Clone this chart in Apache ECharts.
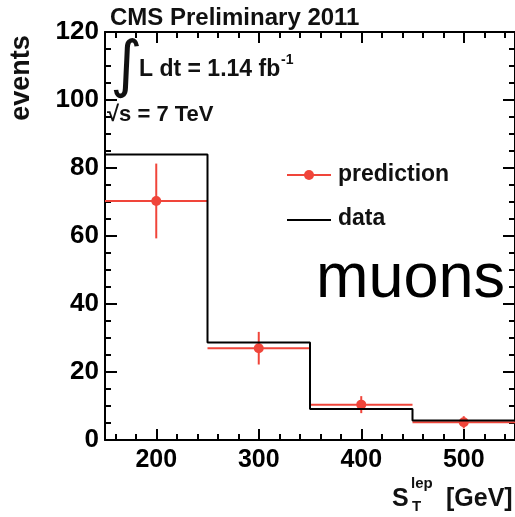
<!DOCTYPE html>
<html>
<head>
<meta charset="utf-8">
<script src="https://cdn.jsdelivr.net/npm/echarts@6/dist/echarts.min.js"></script>
<style>
  html, body { margin: 0; padding: 0; background: #fff; }
  #chart { width: 515px; height: 517px; }
</style>
</head>
<body>
<div id="chart"></div>
<script>
// S_T^lep distribution, muon channel: observed counts vs. prediction
const binEdges = [150, 250, 350, 450, 550];
const dataCounts = [84.0, 28.7, 9.1, 5.7];
const predValues = [70.3, 27.0, 10.4, 5.2];
const predErrors = [11.0, 4.8, 2.5, 1.8];
const xTickLabels = [200, 300, 400, 500];
const xMinorTicks = [160, 180, 200, 220, 240, 260, 280, 300, 320, 340, 360, 380, 400, 420, 440, 460, 480, 500, 520, 540];

const RED = '#f0453a';
const FONT = '"Liberation Sans", Arial, Helvetica, sans-serif';

// step outline of the observed histogram
const histPoints = [];
dataCounts.forEach((v, i) => {
  histPoints.push([binEdges[i], v]);
  histPoints.push([binEdges[i + 1], v]);
});

// prediction points: [centre, value, error, low edge, high edge]
const predPoints = predValues.map((v, i) => [
  (binEdges[i] + binEdges[i + 1]) / 2, v, predErrors[i], binEdges[i], binEdges[i + 1]
]);

const chart = echarts.init(document.getElementById('chart'), null, { renderer: 'canvas' });

const frameLine = { show: true, onZero: false, lineStyle: { color: '#000', width: 2 } };
const noLine = { show: false, onZero: false };
const tickStyle = { color: '#000', width: 2 };

function xAxisDef(position, major) {
  return {
    type: 'value', min: 150, max: 550, position: position,
    axisLine: major ? frameLine : noLine,
    axisTick: {
      show: true, inside: true, length: major ? 11 : 6, lineStyle: tickStyle,
      customValues: major ? xTickLabels : xMinorTicks
    },
    axisLabel: (major && position === 'bottom')
      ? { show: true, customValues: xTickLabels, color: '#000', fontSize: 25, fontWeight: 'bold', fontFamily: FONT, margin: 8 }
      : { show: false },
    splitLine: { show: false }
  };
}

function yAxisDef(position) {
  return {
    type: 'value', min: 0, max: 120, interval: 20, position: position,
    axisLine: frameLine,
    axisTick: { show: true, inside: true, length: 12, lineStyle: tickStyle },
    minorTick: { show: true, splitNumber: 4, length: 6, lineStyle: tickStyle },
    axisLabel: position === 'left'
      ? { color: '#000', fontSize: 26, fontWeight: 'bold', fontFamily: FONT, margin: 6 }
      : { show: false },
    splitLine: { show: false }
  };
}

const option = {
  animation: false,
  backgroundColor: '#fff',
  grid: { left: 105, top: 32, width: 418, height: 408, containLabel: false },
  xAxis: [
    xAxisDef('bottom', true),
    xAxisDef('bottom', false),
    xAxisDef('top', true),
    xAxisDef('top', false)
  ],
  yAxis: [yAxisDef('left'), yAxisDef('right')],
  series: [
    {
      name: 'prediction',
      type: 'custom',
      xAxisIndex: 0, yAxisIndex: 0,
      data: predPoints,
      renderItem: function (params, api) {
        const c = api.value(0), v = api.value(1), e = api.value(2);
        const lo = api.value(3), hi = api.value(4);
        const pL = api.coord([lo, v]), pR = api.coord([hi, v]);
        const pT = api.coord([c, v + e]), pB = api.coord([c, v - e]);
        const pC = api.coord([c, v]);
        const st = { stroke: RED, lineWidth: 2, fill: null };
        return {
          type: 'group',
          children: [
            { type: 'line', shape: { x1: pL[0], y1: pL[1], x2: pR[0], y2: pR[1] }, style: st },
            { type: 'line', shape: { x1: pT[0], y1: pT[1], x2: pB[0], y2: pB[1] }, style: st },
            { type: 'circle', shape: { cx: pC[0], cy: pC[1], r: 5 }, style: { fill: RED } }
          ]
        };
      },
      z: 2
    },
    {
      name: 'data',
      type: 'line',
      xAxisIndex: 0, yAxisIndex: 0,
      data: histPoints,
      showSymbol: false,
      symbol: 'none',
      lineStyle: { color: '#000', width: 2 },
      z: 3
    }
  ],
  graphic: [
    // header
    { type: 'text', left: 110, top: 6, style: { text: 'CMS Preliminary 2011', font: 'bold 24px ' + FONT, fill: '#111' } },
    // luminosity and energy
    { type: 'text', left: 110, top: 38, style: { text: '\u222B', font: '62px "DejaVu Sans", sans-serif', fill: '#111' } },
    { type: 'text', left: 139, top: 58, style: { text: 'L dt = 1.14 fb', font: 'bold 23px ' + FONT, fill: '#111' } },
    { type: 'text', left: 281, top: 53, style: { text: '-1', font: 'bold 14px ' + FONT, fill: '#111' } },
    { type: 'text', left: 107, top: 104, style: { text: '\u221As = 7 TeV', font: 'bold 22px ' + FONT, fill: '#111' } },
    // y-axis title
    { type: 'text', x: 22, y: 78, rotation: Math.PI / 2, style: { text: 'events', font: 'bold 27px ' + FONT, fill: '#111', align: 'center', verticalAlign: 'middle' } },
    // x-axis title
    { type: 'text', left: 392, top: 487, style: { text: 'S', font: 'bold 25px ' + FONT, fill: '#111' } },
    { type: 'text', left: 411, top: 476, style: { text: 'lep', font: 'bold 15px ' + FONT, fill: '#111' } },
    { type: 'text', left: 412, top: 499, style: { text: 'T', font: 'bold 15px ' + FONT, fill: '#111' } },
    { type: 'text', left: 446, top: 487, style: { text: '[GeV]', font: 'bold 25px ' + FONT, fill: '#111' } },
    // legend
    { type: 'line', shape: { x1: 287, y1: 175, x2: 331, y2: 175 }, style: { stroke: RED, lineWidth: 2 } },
    { type: 'circle', shape: { cx: 309, cy: 175, r: 5 }, style: { fill: RED } },
    { type: 'text', left: 338, top: 163, style: { text: 'prediction', font: 'bold 23px ' + FONT, fill: '#111' } },
    { type: 'line', shape: { x1: 287, y1: 220, x2: 331, y2: 220 }, style: { stroke: '#000', lineWidth: 2 } },
    { type: 'text', left: 338, top: 207, style: { text: 'data', font: 'bold 23px ' + FONT, fill: '#111' } },
    // channel tag
    { type: 'text', left: 316, top: 248, style: { text: 'muons', font: '63px ' + FONT, fill: '#000' } }
  ]
};

chart.setOption(option);
</script>
</body>
</html>
